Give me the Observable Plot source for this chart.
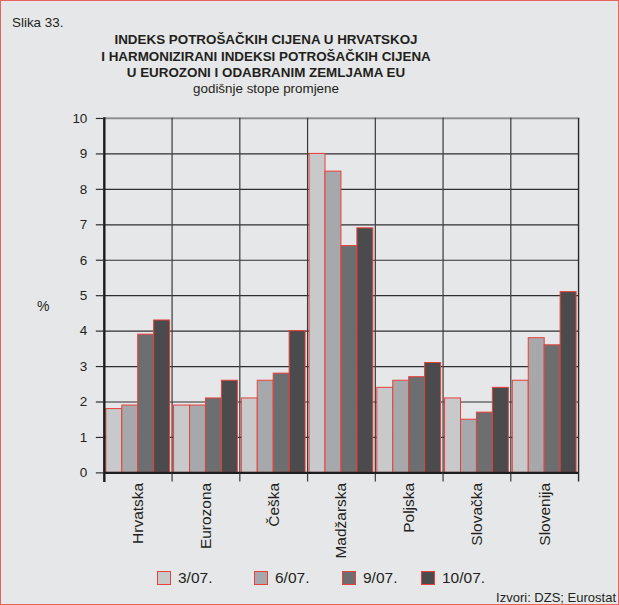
<!DOCTYPE html>
<html>
<head>
<meta charset="utf-8">
<script src="https://cdn.jsdelivr.net/npm/d3@7"></script>
<script src="https://cdn.jsdelivr.net/npm/@observablehq/plot@0.6"></script>
<style>
  html, body { margin: 0; padding: 0; background: #ffffff; }
  #wrap {
    position: relative; width: 619px; height: 605px; box-sizing: border-box;
    border: 1px solid #e9625c; background: #e6e7e8; overflow: hidden;
    font-family: "Liberation Sans", Arial, sans-serif; color: #231f20;
  }
  .abs { position: absolute; white-space: nowrap; }
  #fig { position: absolute; left: -1px; top: 99px; }
  #legend span.sw {
    position: absolute; width: 12px; height: 12px; border: 1px solid #e8403a;
  }
  #legend span.lb { position: absolute; font-size: 15.5px; line-height: 16px; }
</style>
</head>
<body>
<div id="wrap">
  <div class="abs" style="left:11px; top:14px; font-size:13.4px; line-height:16px;">Slika 33.</div>
  <div class="abs" style="left:15px; width:500px; top:31px; text-align:center; font-weight:bold; font-size:13.4px; line-height:16.6px;">
    INDEKS POTROŠAČKIH CIJENA U HRVATSKOJ<br>I HARMONIZIRANI INDEKSI POTROŠAČKIH CIJENA<br>U EUROZONI I ODABRANIM ZEMLJAMA EU
  </div>
  <div class="abs" style="left:15px; width:500px; top:80px; text-align:center; font-size:13.4px; line-height:16px;">godišnje stope promjene</div>
  <div class="abs" style="left:36px; top:297px; font-size:14px; line-height:16px;">%</div>
  <div id="fig"></div>
  <div id="legend"></div>
  <div class="abs" style="right:2px; top:589px; font-size:13px; line-height:15px;">Izvori: DZS; Eurostat</div>
</div>
<script>
const countries = ["Hrvatska", "Eurozona", "Češka", "Madžarska", "Poljska", "Slovačka", "Slovenija"];
const periods = ["3/07.", "6/07.", "9/07.", "10/07."];
const v3  = [1.8, 1.9, 2.1, 9.0, 2.4, 2.1, 2.6];
const v6  = [1.9, 1.9, 2.6, 8.5, 2.6, 1.5, 3.8];
const v9  = [3.9, 2.1, 2.8, 6.4, 2.7, 1.7, 3.6];
const v10 = [4.3, 2.6, 4.0, 6.9, 3.1, 2.4, 5.1];
const yTicks = [0, 1, 2, 3, 4, 5, 6, 7, 8, 9, 10];
const barColors = ["#c8c9cb", "#a7a8ab", "#6d6e70", "#4b4a4d"];

const seriesValues = [v3, v6, v9, v10];
const data = [];
countries.forEach((c, i) => {
  periods.forEach((p, j) => data.push({country: c, period: p, value: seriesValues[j][i]}));
});

const chart = Plot.plot({
  width: 619,
  height: 466,
  marginLeft: 104,
  marginRight: 40,
  marginTop: 18,
  marginBottom: 93,
  style: {background: "transparent", fontFamily: "'Liberation Sans', Arial, sans-serif", color: "#231f20"},
  fx: {domain: countries, padding: 0, round: false, label: null},
  x: {domain: periods, paddingInner: 0, paddingOuter: 0.125, round: false, axis: null},
  y: {domain: [0, 10], label: null},
  color: {domain: periods, range: barColors},
  marks: [
    Plot.ruleY(yTicks, {stroke: "#2f2f30", strokeWidth: 1.2}),
    Plot.barY(data, {fx: "country", x: "period", y: "value", fill: "period", stroke: "#e8403a", strokeWidth: 1}),
    Plot.frame({anchor: "top", stroke: "#8a8a8c", strokeWidth: 1.5}),
    Plot.frame({anchor: "left", stroke: "#3a3a3b", strokeWidth: 1.2, insetBottom: -8}),
    Plot.frame({anchor: "right", stroke: "#2a2a2b", strokeWidth: 1.4, insetBottom: -8, facetAnchor: "right"}),
    Plot.frame({anchor: "left", stroke: "#1d1d1e", strokeWidth: 2.4, insetBottom: -8, facetAnchor: "left"}),
    Plot.ruleY([0], {stroke: "#1d1d1e", strokeWidth: 2.4}),
    Plot.axisY(yTicks, {anchor: "left", tickSize: 8, tickPadding: 9, fontSize: 13.5, stroke: "#2f2f30", strokeWidth: 1.2, label: null, tickFormat: d => d}),
    Plot.axisFx({anchor: "bottom", tickSize: 0, tickPadding: 10, tickRotate: -90, fontSize: 15.5, label: null})
  ]
});
document.getElementById("fig").appendChild(chart);

// legend
const legend = document.getElementById("legend");
const swX = [157, 254, 342, 421];
periods.forEach((p, j) => {
  const sw = document.createElement("span");
  sw.className = "sw";
  sw.style.left = (swX[j] - 1) + "px";
  sw.style.top = "570px";
  sw.style.background = barColors[j];
  legend.appendChild(sw);
  const lb = document.createElement("span");
  lb.className = "lb";
  lb.style.left = (swX[j] + 21 - 1) + "px";
  lb.style.top = "569px";
  lb.textContent = p;
  legend.appendChild(lb);
});
</script>
</body>
</html>
